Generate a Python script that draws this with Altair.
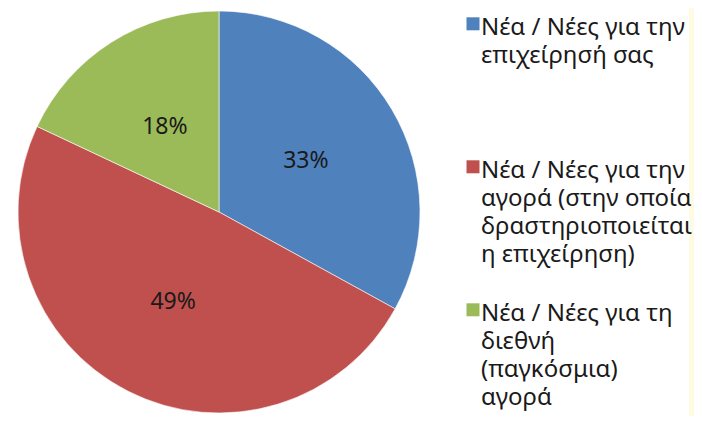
import altair as alt
import pandas as pd

categories = [
    "Νέα / Νέες για την επιχείρησή σας",
    "Νέα / Νέες για την αγορά (στην οποία δραστηριοποιείται η επιχείρηση)",
    "Νέα / Νέες για τη διεθνή (παγκόσμια) αγορά",
]
values = [33, 49, 18]
labels = ["33%", "49%", "18%"]
legend_lines = [
    ["Νέα / Νέες για την", "επιχείρησή σας", "", ""],
    ["Νέα / Νέες για την", "αγορά (στην οποία", "δραστηριοποιείται", "η επιχείρηση)"],
    ["Νέα / Νέες για τη", "διεθνή", "(παγκόσμια)", "αγορά"],
]
colors = ["#4F81BD", "#C0504D", "#9BBB59"]

df = pd.DataFrame({"category": categories, "value": values, "label": labels,
                   "order": list(range(len(categories)))})

expr = ""
for cat, lines in zip(categories, legend_lines):
    arr = "[" + ",".join("'" + l + "'" for l in lines) + "]"
    expr += f"datum.value == '{cat}' ? {arr} : "
expr += "datum.label"

color = alt.Color(
    "category:N",
    scale=alt.Scale(domain=categories, range=colors),
    legend=alt.Legend(
        title=None, orient="none", legendX=447, legendY=-4,
        symbolType="M-0.077,0.2H1.923V2.2H-0.077Z", symbolSize=169, symbolStrokeWidth=0,
        labelFont="Noto Sans", labelFontSize=24, labelColor="#1a1a1a",
        labelLimit=0, labelExpr=expr, labelBaseline="top",
        labelOffset=2, rowPadding=23,
    ),
)

base = alt.Chart(df).encode(
    theta=alt.Theta("value:Q", stack=True),
    order=alt.Order("order:Q"),
)

pie = base.mark_arc(outerRadius=201, stroke="#ffffff", strokeWidth=0.6).encode(color=color)
text = base.mark_text(radius=101, font="Noto Sans", fontSize=23, color="#1a1a1a").encode(
    text="label:N"
)

strip = alt.Chart(df).mark_rect(color="#FFFBE3").encode(
    x=alt.value(681), x2=alt.value(686), y=alt.value(0), y2=alt.value(408)
)

chart = alt.layer(strip, pie, text).properties(
    width=422, height=408,
    autosize=alt.AutoSizeParams(type="none"),
    padding={"left": 0, "top": 0, "right": 264, "bottom": 0},
).configure(style={"guide-label": {"lineHeight": 28}}).configure_view(stroke=None)

chart.save("out.html", embed_options={"renderer": "svg", "actions": False})
